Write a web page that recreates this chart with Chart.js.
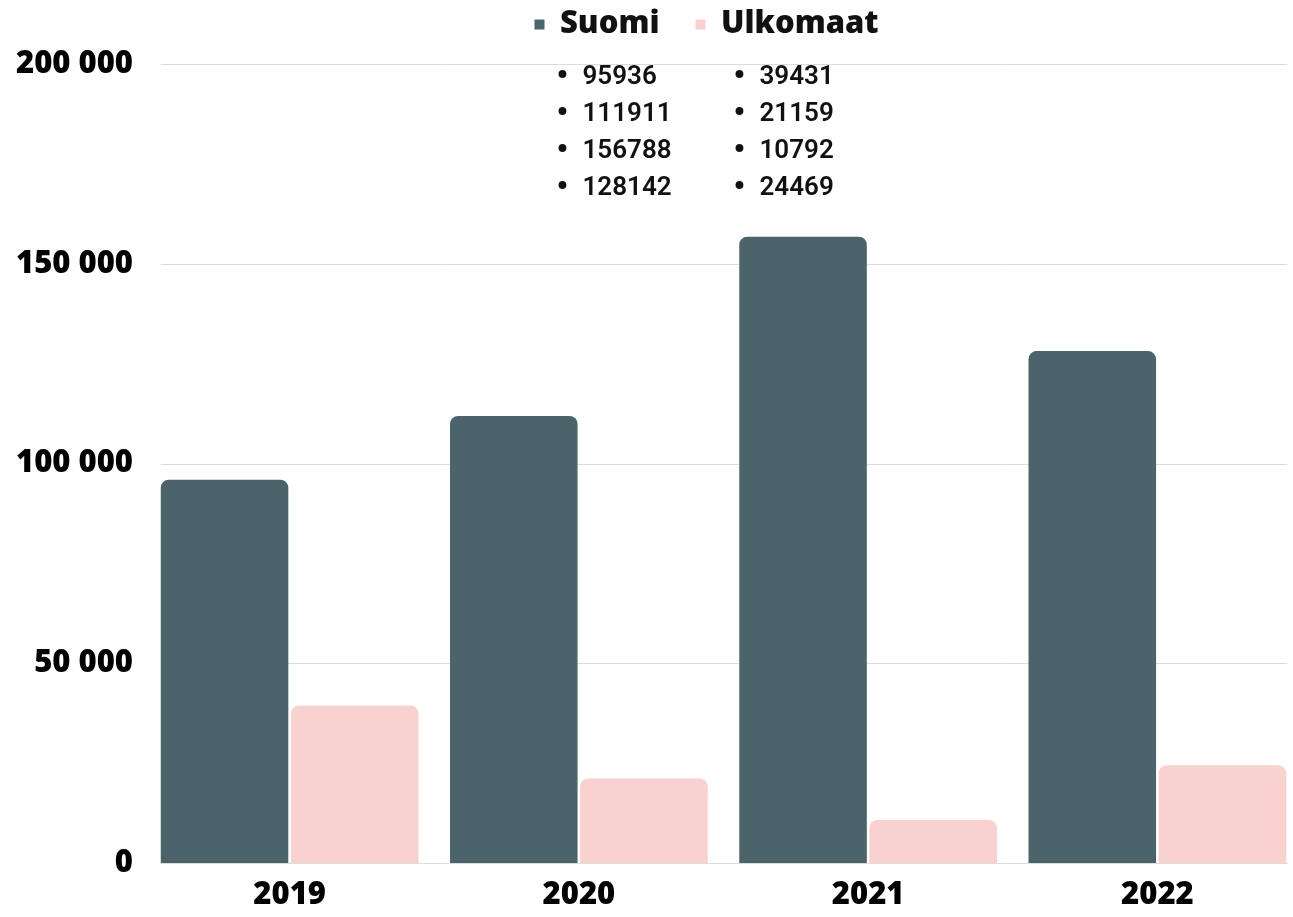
<!DOCTYPE html>
<html lang="fi">
<head>
<meta charset="UTF-8">
<title>Suomi ja ulkomaat</title>
<script src="https://cdn.jsdelivr.net/npm/chart.js@4.4.1/dist/chart.umd.min.js"></script>
<style>
    html, body { margin:0; padding:0; overflow:hidden; background:#fff; }
    #board { width:1302px; height:917px; }
</style>
</head>
<body>
<div id="board"><canvas id="chart1"></canvas></div>
<script>
const years = ['2019', '2020', '2021', '2022'];
const suomi = [95936, 111911, 156788, 128142];
const ulkomaat = [39431, 21159, 10792, 24469];
const yTicks = [0, 50000, 100000, 150000, 200000];

const fmt = v => String(v).replace(/\B(?=(\d{3})+(?!\d))/g, ' ');

// grid lines only from the first bar to the last one
const gridLines = {
    id: 'gridLines',
    beforeDatasetsDraw(chart) {
        const ctx = chart.ctx;
        const y = chart.scales.y;
        const first = chart.getDatasetMeta(0).data[0];
        const lastBars = chart.getDatasetMeta(1).data;
        const last = lastBars[lastBars.length - 1];
        const x1 = first.x - first.width / 2;
        const x2 = last.x + last.width / 2 + 1;
        ctx.save();
        ctx.strokeStyle = '#dcdcdc';
        ctx.lineWidth = 1;
        yTicks.forEach(t => {
            const py = Math.round(y.getPixelForValue(t)) + 0.5;
            ctx.beginPath();
            ctx.moveTo(x1, py);
            ctx.lineTo(x2, py);
            ctx.stroke();
        });
        ctx.restore();
    }
};

// the bulleted value lists under the legend items
const valueList = {
    id: 'valueList',
    afterDraw(chart) {
        const ctx = chart.ctx;
        const boxes = chart.legend.legendHitBoxes;
        const cols = [suomi, ulkomaat];
        const shift = [28, 44];
        ctx.save();
        ctx.fillStyle = '#111';
        ctx.textBaseline = 'middle';
        cols.forEach((vals, c) => {
            const bx = boxes[c].left + shift[c];
            vals.forEach((v, i) => {
                const py = 77 + i * 37;
                ctx.font = '700 34px Roboto';
                ctx.textAlign = 'center';
                ctx.fillText('•', bx, py);
                ctx.font = '600 26px Roboto';
                ctx.textAlign = 'left';
                ctx.fillText(String(v), bx + 20, py);
            });
        });
        ctx.restore();
    }
};

// legend taller so the plot starts lower, and moved a bit left
const legendSpace = {
    id: 'legendSpace',
    beforeInit(chart) {
        const fit = chart.legend.fit;
        chart.legend.fit = function () {
            fit.call(this);
            this.height = 91;
        };
    },
    afterLayout(chart) {
        chart.legend.left -= 17;
        chart.legend.right -= 17;
    }
};

const ctx = document.getElementById('chart1').getContext('2d');
new Chart(ctx, {
    type: 'bar',
    data: {
        labels: years,
        datasets: [
            {
                label: 'Suomi',
                data: suomi,
                backgroundColor: '#4a6469',
                borderRadius: 8,
                categoryPercentage: 0.9,
                barPercentage: 0.98
            },
            {
                label: 'Ulkomaat',
                data: ulkomaat,
                backgroundColor: '#f9d1ce',
                borderRadius: 8,
                categoryPercentage: 0.9,
                barPercentage: 0.98
            }
        ]
    },
    options: {
        responsive: true,
        maintainAspectRatio: false,
        animation: false,
        layout: { padding: { left: 16, top: -27, right: 0, bottom: 0 } },
        plugins: {
            legend: {
                fullSize: false,
                labels: {
                    boxWidth: 10,
                    boxHeight: 10,
                    padding: 36,
                    color: '#111',
                    font: { family: 'Open Sans', size: 31, weight: '800' }
                }
            },
            tooltip: { enabled: false }
        },
        scales: {
            x: {
                grid: { display: false, drawTicks: false },
                border: { display: false },
                ticks: {
                    color: '#000',
                    padding: 14,
                    font: { family: 'Open Sans', size: 31, weight: '800' }
                },
                afterFit(scale) { scale.height = 54; }
            },
            y: {
                min: 0,
                max: 200000,
                grid: { display: false, drawTicks: false },
                border: { display: false },
                afterBuildTicks(scale) { scale.ticks = yTicks.map(v => ({ value: v })); },
                ticks: {
                    color: '#000',
                    padding: 12,
                    font: { family: 'Open Sans', size: 31, weight: '800' },
                    callback: v => fmt(v)
                },
                afterFit(scale) { scale.width = 129; }
            }
        }
    },
    plugins: [gridLines, valueList, legendSpace]
});
</script>
</body>
</html>
